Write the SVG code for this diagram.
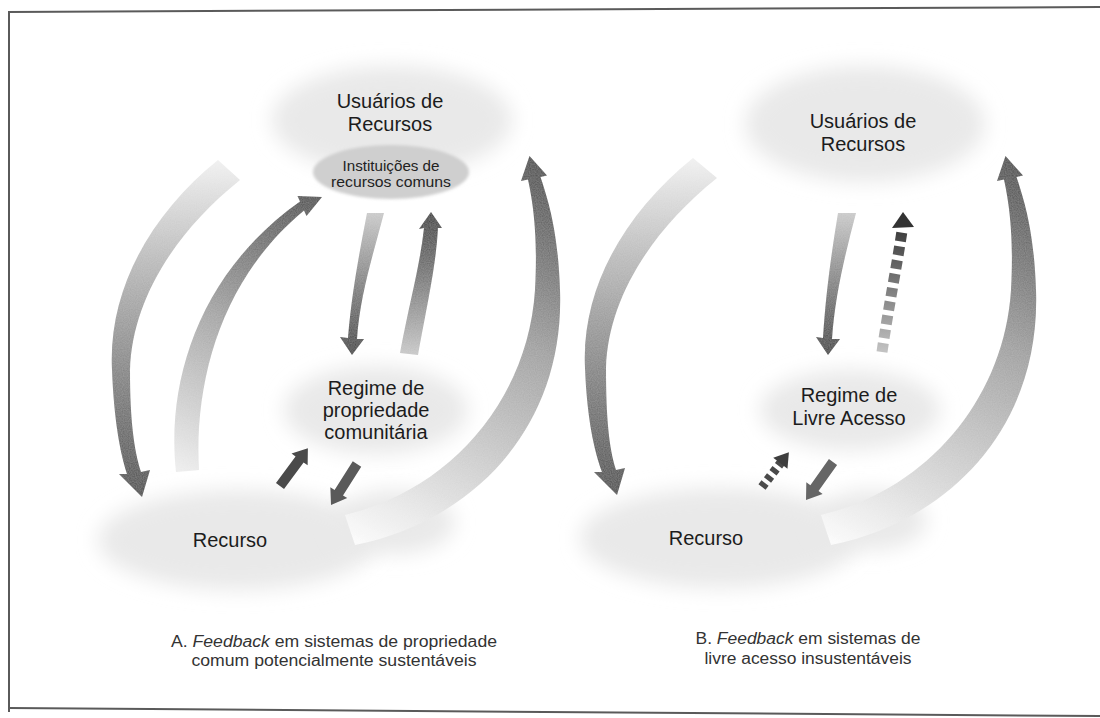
<svg xmlns="http://www.w3.org/2000/svg" width="1100" height="718" viewBox="0 0 1100 718">
  <defs>
    <filter id="blob" x="-40%" y="-40%" width="180%" height="180%">
      <feGaussianBlur stdDeviation="10"/>
    </filter>
    <filter id="soft" x="-20%" y="-20%" width="140%" height="140%">
      <feGaussianBlur stdDeviation="1.5"/>
    </filter>
    <filter id="grain" x="0%" y="0%" width="100%" height="100%">
      <feTurbulence type="fractalNoise" baseFrequency="0.85" numOctaves="1" seed="3" result="n"/>
      <feColorMatrix in="n" type="matrix" values="0 0 0 0 1  0 0 0 0 1  0 0 0 0 1  0 0 0 0.18 0" result="w"/>
      <feComposite in="w" in2="SourceGraphic" operator="in" result="wm"/>
      <feMerge>
        <feMergeNode in="SourceGraphic"/>
        <feMergeNode in="wm"/>
      </feMerge>
    </filter>
    <linearGradient id="gOut" gradientUnits="userSpaceOnUse" x1="0" y1="160" x2="0" y2="495">
      <stop offset="0" stop-color="#f0f0f0"/>
      <stop offset="0.3" stop-color="#b8b8b8"/>
      <stop offset="1" stop-color="#404040"/>
    </linearGradient>
    <linearGradient id="gIn" gradientUnits="userSpaceOnUse" x1="185" y1="472" x2="320" y2="200">
      <stop offset="0" stop-color="#ececec"/>
      <stop offset="0.5" stop-color="#a2a2a2"/>
      <stop offset="1" stop-color="#424242"/>
    </linearGradient>
    <linearGradient id="gRight" gradientUnits="userSpaceOnUse" x1="345" y1="535" x2="535" y2="160">
      <stop offset="0" stop-color="#fafafa"/>
      <stop offset="0.3" stop-color="#cccccc"/>
      <stop offset="0.6" stop-color="#9c9c9c"/>
      <stop offset="1" stop-color="#3e3e3e"/>
    </linearGradient>
    <linearGradient id="gDown" gradientUnits="userSpaceOnUse" x1="0" y1="213" x2="0" y2="352">
      <stop offset="0" stop-color="#c8c8c8"/>
      <stop offset="1" stop-color="#333333"/>
    </linearGradient>
    <linearGradient id="gUp" gradientUnits="userSpaceOnUse" x1="0" y1="355" x2="0" y2="212">
      <stop offset="0" stop-color="#c6c6c6"/>
      <stop offset="1" stop-color="#2a2a2a"/>
    </linearGradient>
    <style>
      .blob { fill: #e9e9e9; filter: url(#blob); }
      .band { filter: url(#grain); }
      .lbl { font-family: "Liberation Sans", Arial, sans-serif; font-size: 20px; fill: #1c1c1c; text-anchor: middle; }
      .inst { font-family: "Liberation Sans", Arial, sans-serif; font-size: 14px; fill: #222; text-anchor: middle; }
      .cap { font-family: "Liberation Sans", Arial, sans-serif; font-size: 16px; fill: #333; text-anchor: middle; }
      .frame { stroke: #5a5a5a; stroke-width: 2; fill: none; }
    </style>
  </defs>

  <rect width="1100" height="718" fill="#ffffff"/>

  <!-- frame -->
  <g id="frame">
    <path class="frame" d="M8,12 L1100,7"/>
    <path class="frame" d="M9,12 L9,712"/>
    <path class="frame" d="M9,708 L1100,716" stroke-width="1.5"/>
  </g>

  <!-- Panel A nodes -->
  <g id="a-usuarios">
    <ellipse class="blob" cx="392" cy="120" rx="120" ry="54"/>
    <text class="lbl" x="390" y="108">Usuários de</text>
    <text class="lbl" x="390" y="131">Recursos</text>
  </g>
  <g id="a-instituicoes">
    <ellipse cx="391" cy="172" rx="78" ry="27" fill="#cfcfcf" filter="url(#soft)"/>
    <text class="inst" x="391" y="171" textLength="97" lengthAdjust="spacingAndGlyphs">Instituições de</text>
    <text class="inst" x="391" y="187" textLength="120" lengthAdjust="spacingAndGlyphs">recursos comuns</text>
  </g>
  <g id="a-regime">
    <ellipse class="blob" cx="376" cy="410" rx="92" ry="44"/>
    <text class="lbl" x="376" y="395">Regime de</text>
    <text class="lbl" x="376" y="417">propriedade</text>
    <text class="lbl" x="376" y="439">comunitária</text>
  </g>
  <g id="a-recurso">
    <ellipse class="blob" cx="238" cy="540" rx="140" ry="50"/>
    <ellipse class="blob" cx="395" cy="522" rx="60" ry="32"/>
    <text class="lbl" x="230" y="547">Recurso</text>
  </g>

  <!-- Panel B nodes -->
  <g id="b-usuarios">
    <ellipse class="blob" cx="865" cy="124" rx="120" ry="58"/>
    <text class="lbl" x="863" y="128">Usuários de</text>
    <text class="lbl" x="863" y="151">Recursos</text>
  </g>
  <g id="b-regime">
    <ellipse class="blob" cx="850" cy="410" rx="90" ry="40"/>
    <text class="lbl" x="849" y="402">Regime de</text>
    <text class="lbl" x="849" y="425">Livre Acesso</text>
  </g>
  <g id="b-recurso">
    <ellipse class="blob" cx="720" cy="538" rx="140" ry="50"/>
    <ellipse class="blob" cx="872" cy="520" rx="55" ry="30"/>
    <text class="lbl" x="706" y="545">Recurso</text>
  </g>

  <!-- connectors -->
  <g id="connectors">
    <!-- Panel A -->
    <path id="a-outer-left" class="band" fill="url(#gOut)" d="M218,160 C150,215 108,290 112,370 C114,420 120,452 127,474 L119,474 L142,497 L150,470 L141,472 C134,450 130,420 130,370 C132,300 175,232 240,180 Z"/>
    <path id="a-inner-left" class="band" fill="url(#gIn)" d="M176,472 C166,380 200,272 300,201.5 L297.5,196 L322,197 L306.5,216 L304,210.5 C222,278 194,380 199,470 Z"/>
    <path id="a-right" class="band" fill="url(#gRight)" d="M345,515 C450,490 528,400 535,290 C538,235 533,203 528,179.5 L521,181 L529.5,156 L547,175.5 L540.5,177 C548,200 558,230 560,290 C565,430 470,522 355,545 Z"/>
    <path id="a-down" class="band" fill="url(#gDown)" d="M367,213 C360,250 352,290 348,338 L340,337 L352,355 L364,339 L357,339 C360,295 373,255 384,213 Z"/>
    <path id="a-up" class="band" fill="url(#gUp)" d="M400,353 C410,300 420,265 424,228 L419,229 L431,212 L442,228 L438,228 C436,265 428,300 418,355 Z"/>
    <path id="a-small-up" fill="#4a4a4a" transform="translate(280,486) rotate(-53.6)" d="M0,-5 L33,-5 L33,-10 L47,0 L33,10 L33,5 L0,5 Z"/>
    <path id="a-small-down" fill="#5a5a5a" transform="translate(357,464) rotate(122.4)" d="M0,-5 L34,-5 L34,-10 L48.5,0 L34,10 L34,5 L0,5 Z"/>

    <!-- Panel B -->
    <path id="b-outer-left" class="band" fill="url(#gOut)" transform="translate(475,-2)" d="M218,160 C150,215 106,290 110,370 C112,420 119,452 127,474 L119,474 L142,497 L150,470 L141,472 C134,450 131,420 131,370 C133,300 177,232 242,180 Z"/>
    <path id="b-right" class="band" fill="url(#gRight)" transform="translate(476,0)" d="M345,515 C450,490 528,400 535,290 C538,235 533,203 528,179.5 L521,181 L529.5,156 L547,175.5 L540.5,177 C548,200 558,230 560,290 C565,430 470,522 355,545 Z"/>
    <path id="b-down" class="band" fill="url(#gDown)" d="M838,213 C832,250 826,290 823,338 L816,337 L828,355 L840,339 L832,339 C835,295 845,255 856,213 Z"/>
    <g id="b-up-dashed">
      <path d="M882,352 C888,310 897,265 902,231" fill="none" stroke="url(#gUp)" stroke-width="11" stroke-dasharray="9 5"/>
      <polygon points="892,228 903,212 914,227" fill="#333"/>
    </g>
    <g id="b-small-up-dashed" transform="translate(762,487) rotate(-52.3)">
      <line x1="0" y1="0" x2="31" y2="0" stroke="#4a4a4a" stroke-width="9" stroke-dasharray="5 4"/>
      <polygon points="30,-9 44,0 30,9" fill="#3e3e3e"/>
    </g>
    <path id="b-small-down" fill="#666666" transform="translate(833,462) rotate(125.4)" d="M0,-5 L32,-5 L32,-10 L46.6,0 L32,10 L32,5 L0,5 Z"/>
  </g>

  <!-- captions -->
  <g id="caption-a">
    <text class="cap" x="334" y="647" textLength="326" lengthAdjust="spacingAndGlyphs">A. <tspan font-style="italic">Feedback</tspan> em sistemas de propriedade</text>
    <text class="cap" x="334" y="666" textLength="285" lengthAdjust="spacingAndGlyphs">comum potencialmente sustentáveis</text>
  </g>
  <g id="caption-b">
    <text class="cap" x="808" y="644" textLength="225" lengthAdjust="spacingAndGlyphs">B. <tspan font-style="italic">Feedback</tspan> em sistemas de</text>
    <text class="cap" x="808" y="664" textLength="207" lengthAdjust="spacingAndGlyphs">livre acesso insustentáveis</text>
  </g>
</svg>
